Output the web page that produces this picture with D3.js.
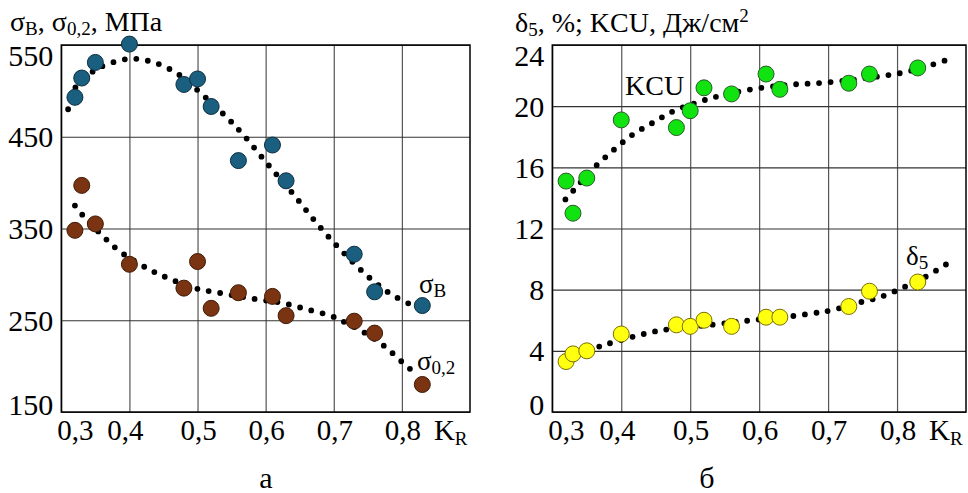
<!DOCTYPE html>
<html>
<head>
<meta charset="UTF-8">
<title>Chart</title>
<script src="https://cdn.jsdelivr.net/npm/d3@7/dist/d3.min.js"></script>
<style type="text/css">
body { margin: 0; background: #fff; }
svg { display: block; font-family: "Liberation Serif", "Times New Roman", serif; }
</style>
</head>
<body>
<div class="chart"></div>
<script>
// K_R values of the samples (same for both panels)
var kR = [0.32, 0.33, 0.35, 0.40, 0.48, 0.50, 0.52, 0.56, 0.61, 0.63, 0.73, 0.76, 0.83];

// panel a, MPa
var sigmaB  = [493, 514, 531, 551, 507, 513, 483, 424, 441, 402, 322, 281, 266];
var sigma02 = [348, 397, 355, 311, 285, 314, 263, 280, 276, 255, 249, 236, 180];

// panel б
var kcu    = [15.1, 13.0, 15.3, 19.1, 18.6, 19.7, 21.2, 20.8, 22.1, 21.1, 21.5, 22.1, 22.5];
var delta5 = [3.3, 3.8, 4.0, 5.1, 5.7, 5.6, 6.0, 5.6, 6.2, 6.2, 6.9, 7.9, 8.5];

// dotted trend curves
var sigmaBTrendX = [0.31, 0.32, 0.348, 0.364, 0.401, 0.436, 0.47, 0.498, 0.539, 0.565, 0.602, 0.64, 0.677, 0.715, 0.756, 0.785, 0.816];
var sigmaBTrendY = [480, 503, 522, 528, 535, 531, 519, 502, 474, 454, 421, 388, 354, 323, 294, 278, 266];
var sigma02TrendX = [0.32, 0.332, 0.358, 0.386, 0.43, 0.463, 0.496, 0.531, 0.586, 0.623, 0.66, 0.695, 0.713, 0.744, 0.774, 0.801, 0.815];
var sigma02TrendY = [375, 364, 344, 325, 305, 294, 285, 280, 273, 269, 262, 255, 249, 237, 222, 204, 195];
var kcuTrendX = [0.319, 0.332, 0.358, 0.386, 0.415, 0.446, 0.476, 0.512, 0.545, 0.582, 0.638, 0.695, 0.771, 0.808, 0.844, 0.879];
var kcuTrendY = [13.9, 14.55, 15.86, 17.02, 18.09, 18.92, 19.68, 20.27, 20.7, 21.05, 21.38, 21.54, 21.93, 22.19, 22.62, 23.13];
var delta5TrendX = [0.32, 0.35, 0.371, 0.387, 0.422, 0.459, 0.534, 0.591, 0.648, 0.686, 0.704, 0.74, 0.774, 0.808, 0.839, 0.871];
var delta5TrendY = [3.55, 4.0, 4.32, 4.54, 4.98, 5.35, 5.72, 6.01, 6.27, 6.51, 6.64, 7.10, 7.49, 8.12, 8.78, 9.65];

// ticks
var xTicks = [0.3, 0.4, 0.5, 0.6, 0.7, 0.8];
var xTickLabels = ["0,3", "0,4", "0,5", "0,6", "0,7", "0,8"];
var yTicksA = [150, 250, 350, 450, 550];
var yTicksB = [0, 4, 8, 12, 16, 20, 24];

var svg = d3.select(".chart")
	.append("svg")
	.attr("width", 968)
	.attr("height", 493);

var plotTop = 45, plotBottom = 412;

function panel(left, right, yDomain, yTicks, series, trends) {
	var g = svg.append("g");
	var x = d3.scaleLinear().domain([0.3, 0.9]).range([left, right]);
	var y = d3.scaleLinear().domain(yDomain).range([plotBottom, plotTop]);

	// grid
	g.append("g")
		.attr("transform", "translate(0," + plotBottom + ")")
		.call(d3.axisBottom(x).tickValues(xTicks).tickSize(-(plotBottom - plotTop)).tickFormat(""))
		.call(function(s) { s.select(".domain").remove(); })
		.selectAll("line").attr("stroke", "#555").attr("stroke-width", 1.2);
	g.append("g")
		.attr("transform", "translate(" + left + ",0)")
		.call(d3.axisLeft(y).tickValues(yTicks).tickSize(-(right - left)).tickFormat(""))
		.call(function(s) { s.select(".domain").remove(); })
		.selectAll("line").attr("stroke", "#333").attr("stroke-width", 1.2);
	g.append("rect")
		.attr("x", left).attr("y", plotTop)
		.attr("width", right - left).attr("height", plotBottom - plotTop)
		.attr("fill", "none").attr("stroke", "#000").attr("stroke-width", 1.5);

	// y labels
	g.selectAll(".ylab")
		.data(yTicks)
		.enter()
		.append("text")
		.attr("x", left - 8)
		.attr("y", function(d) { return Math.max(plotTop + 10, Math.min(plotBottom - 8, y(d))); })
		.attr("dy", "0.35em")
		.attr("text-anchor", "end")
		.attr("font-size", 30)
		.text(function(d) { return d; });

	// x labels
	g.selectAll(".xlab")
		.data(xTicks)
		.enter()
		.append("text")
		.attr("x", function(d, i) { return x(d) + (i == 0 ? 14 : i == 1 ? -4 : 1); })
		.attr("y", 440)
		.attr("text-anchor", "middle")
		.attr("font-size", 29)
		.text(function(d, i) { return xTickLabels[i]; });

	var kl = g.append("text")
		.attr("x", x(0.8) + 32)
		.attr("y", 440)
		.attr("font-size", 29);
	kl.append("tspan").text("K");
	kl.append("tspan").attr("font-size", 19).attr("dy", 5).text("R");

	// trends
	var line = d3.line()
		.x(function(d) { return x(d[0]); })
		.y(function(d) { return y(d[1]); })
		.curve(d3.curveCatmullRom.alpha(0.5));
	trends.forEach(function(t) {
		g.append("path")
			.datum(d3.zip(t[0], t[1]))
			.attr("d", line)
			.attr("fill", "none")
			.attr("stroke", "#000")
			.attr("stroke-width", 5.8)
			.attr("stroke-linecap", "round")
			.attr("stroke-dasharray", "0 11.6");
	});

	// points
	series.forEach(function(s) {
		g.selectAll(null)
			.data(d3.zip(kR, s.values))
			.enter()
			.append("circle")
			.attr("cx", function(d) { return x(d[0]); })
			.attr("cy", function(d) { return y(d[1]); })
			.attr("r", 8)
			.attr("fill", s.fill)
			.attr("stroke", s.stroke)
			.attr("stroke-width", 1);
	});
	return g;
}

panel(61.3, 470, [150, 550], yTicksA,
	[{values: sigmaB, fill: "#1a5e80", stroke: "#0c2f40"},
	 {values: sigma02, fill: "#7a3411", stroke: "#3f1a06"}],
	[[sigmaBTrendX, sigmaBTrendY], [sigma02TrendX, sigma02TrendY]]);

panel(552.3, 966, [0, 24], yTicksB,
	[{values: kcu, fill: "#11e311", stroke: "#2b5a2b"},
	 {values: delta5, fill: "#ffff10", stroke: "#7a6e00"}],
	[[kcuTrendX, kcuTrendY], [delta5TrendX, delta5TrendY]]);

// titles and labels
var t1 = svg.append("text").attr("x", 10).attr("y", 31).attr("font-size", 28);
t1.append("tspan").text("σ");
t1.append("tspan").attr("font-size", 19).attr("dy", 4).text("В");
t1.append("tspan").attr("dy", -4).text(", σ");
t1.append("tspan").attr("font-size", 19).attr("dy", 4).text("0,2");
t1.append("tspan").attr("dy", -4).text(", МПа");

var t2 = svg.append("text").attr("x", 515).attr("y", 32).attr("font-size", 28);
t2.append("tspan").text("δ");
t2.append("tspan").attr("font-size", 19).attr("dy", 4).text("5");
t2.append("tspan").attr("dy", -4).text(", %; KCU, Дж/см");
t2.append("tspan").attr("font-size", 19).attr("dy", -10).text("2");

var l1 = svg.append("text").attr("x", 419).attr("y", 293).attr("font-size", 27);
l1.append("tspan").text("σ");
l1.append("tspan").attr("font-size", 19).attr("dy", 4).text("В");

var l2 = svg.append("text").attr("x", 417).attr("y", 370).attr("font-size", 27);
l2.append("tspan").text("σ");
l2.append("tspan").attr("font-size", 19).attr("dy", 4).text("0,2");

svg.append("text").attr("x", 625).attr("y", 95).attr("font-size", 28).text("KCU");

var l4 = svg.append("text").attr("x", 906).attr("y", 265).attr("font-size", 27);
l4.append("tspan").text("δ");
l4.append("tspan").attr("font-size", 19).attr("dy", 4).text("5");

svg.append("text").attr("x", 266).attr("y", 488).attr("text-anchor", "middle").attr("font-size", 30).text("а");
svg.append("text").attr("x", 707).attr("y", 488).attr("text-anchor", "middle").attr("font-size", 30).text("б");
</script>
</body>
</html>
